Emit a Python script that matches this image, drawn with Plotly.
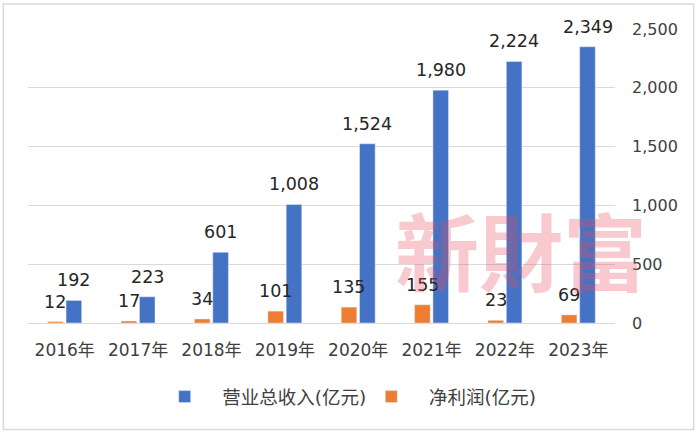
import plotly.graph_objects as go

# data
years = ['2016年', '2017年', '2018年', '2019年', '2020年', '2021年', '2022年', '2023年']
revenue = [192, 223, 601, 1008, 1524, 1980, 2224, 2349]   # 营业总收入(亿元)
profit = [12, 17, 34, 101, 135, 155, 23, 69]              # 净利润(亿元)
y_ticks = [0, 500, 1000, 1500, 2000, 2500]

BLUE = '#4472c4'
ORANGE = '#ed7d31'
FONT = 'DejaVu Sans, Noto Sans CJK SC'
PAD = '\u00a0' * 3  # push legend text away from its swatch

fig = go.Figure()
fig.add_trace(go.Bar(x=years, y=profit, name=PAD + '净利润(亿元)', marker_color=ORANGE, legendrank=2))
fig.add_trace(go.Bar(x=years, y=revenue, name=PAD + '营业总收入(亿元)', marker_color=BLUE, legendrank=1))

# value labels above each bar
for vals, shift in [(profit, -9.2), (revenue, 9.2)]:
    for x, v in zip(years, vals):
        fig.add_annotation(x=x, y=v, text=f'{v:,}', showarrow=False, yanchor='bottom',
                           xshift=shift, yshift=8, font=dict(size=17.5, color='#262626', family=FONT))

# watermark
fig.add_annotation(x=0.84, y=0.255, xref='paper', yref='paper', xanchor='center', yanchor='middle',
                   text='<b>新財富</b>', showarrow=False,
                   font=dict(size=84, color='rgba(232,80,95,0.3)', family='Noto Sans CJK TC'))

# outer frame
fig.add_shape(type='rect', xref='paper', yref='paper', x0=-0.042, x1=1.134, y0=-0.362, y1=1.085,
              line=dict(color='#d9d9d9', width=1.5), fillcolor='rgba(0,0,0,0)', layer='below')

fig.update_layout(
    width=700, height=436,
    margin=dict(l=28, r=85, t=29, b=113),
    paper_bgcolor='white', plot_bgcolor='white',
    barmode='group', bargap=0.5, bargroupgap=0.15,
    font=dict(family=FONT, color='#404040'),
    showlegend=True,
    legend=dict(orientation='h', x=0.554, xanchor='center', y=-0.252, yanchor='middle',
                font=dict(size=18.5, color='#404040'), itemwidth=30, traceorder='normal'),
)
fig.update_xaxes(showline=True, linecolor='#d9d9d9', linewidth=1, showgrid=False,
                 tickfont=dict(size=17, color='#404040'), ticklabelstandoff=12)
fig.update_yaxes(side='right', range=[0, 2500], tickvals=y_ticks, tickformat=',',
                 gridcolor='#d9d9d9', gridwidth=1, zeroline=False, showline=False,
                 tickfont=dict(size=16, color='#404040'), ticklabelstandoff=16)

fig.write_html('out.html', config={'displayModeBar': False},
               post_script="document.body.style.margin='0';")
